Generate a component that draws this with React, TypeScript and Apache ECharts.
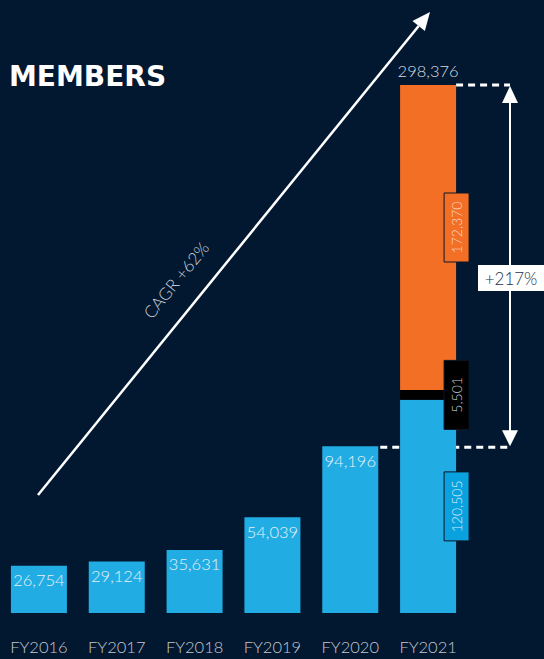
import React, { useEffect, useRef } from "react";
import * as echarts from "echarts";

const categories = ["FY2016", "FY2017", "FY2018", "FY2019", "FY2020", "FY2021"];
const members = [26754, 29124, 35631, 54039, 94196, 120505];
const blackPart = [null, null, null, null, null, 5501];
const orangePart = [null, null, null, null, null, 172370];
const total2021 = 298376;
const cagrText = "CAGR +62%";
const growthText = "+217%";
const titleText = "MEMBERS";

const BG = "#021830";
const BLUE = "#21ADE3";
const ORANGE = "#F36F26";
const FONT = "Lato";

const fmt = (v: number) => v.toLocaleString("en-US");

export default function App() {
  const ref = useRef<HTMLDivElement>(null);
  useEffect(() => {
    document.body.style.margin = "0";
    const chart = echarts.init(ref.current!, null, { renderer: "svg" });
    const option: any = {
      animation: false,
      backgroundColor: BG,
      grid: { left: -1, right: 77, top: 85, bottom: 46 },
      xAxis: {
        type: "category",
        data: categories,
        axisLine: { show: false },
        axisTick: { show: false },
        axisLabel: { color: "#c3c9d1", fontSize: 16.5, margin: 25, fontFamily: FONT, fontWeight: 300 },
      },
      yAxis: { type: "value", min: 0, max: total2021, show: false },
      series: [
        {
          type: "bar",
          stack: "s",
          barWidth: 56,
          itemStyle: { color: BLUE },
          label: {
            show: true,
            position: "insideTop",
            distance: 6,
            color: "#e6f0f7",
            fontSize: 16.5,
            fontFamily: FONT,
            fontWeight: 300,
            formatter: (p: any) => (p.dataIndex === 5 ? "" : fmt(p.value)),
          },
          data: members,
        },
        {
          type: "bar",
          stack: "s",
          barWidth: 56,
          itemStyle: { color: "#000000" },
          data: blackPart,
        },
        {
          type: "bar",
          stack: "s",
          barWidth: 56,
          itemStyle: { color: ORANGE },
          data: orangePart,
        },
      ],
    };
    chart.setOption(option);

    const px = (cat: string, v: number) =>
      chart.convertToPixel({ gridIndex: 0 }, [cat, v]) as number[];
    const last = categories[5];
    const base = px(last, 0);
    const pBlue = px(last, members[5]);
    const pBlack = px(last, members[5] + (blackPart[5] as number));
    const pTop = px(last, total2021);
    const p2020 = px(categories[4], members[4]);
    const half = 28;
    const ax = 510;
    const white = "#ffffff";
    const dash = { stroke: white, lineWidth: 3, lineDash: [7, 5] };

    const box = (cx: number, cy: number, fill: string, color: string, v: number) => [
      {
        type: "rect",
        shape: { x: cx - 12.5, y: cy - 34.5, width: 25, height: 69 },
        style: { fill, stroke: "#0a1626", lineWidth: 1 },
        z: 10,
      },
      {
        type: "text",
        x: cx,
        y: cy,
        rotation: Math.PI / 2,
        z: 11,
        style: {
          text: fmt(v),
          fill: color,
          font: `300 14px ${FONT}`,
          align: "center",
          verticalAlign: "middle",
        },
      },
    ];
    const bxc = base[0] + half + 0.5;

    // CAGR arrow
    const sx = 38, sy = 495, tx = 430, ty = 12;
    const L = Math.hypot(tx - sx, ty - sy);
    const ux = (tx - sx) / L, uy = (ty - sy) / L;
    const hl = 18, hw = 8;
    const bx = tx - ux * hl, by = ty - uy * hl;
    const ang = Math.atan2(sy - ty, tx - sx);

    const graphic: any[] = [
      {
        type: "text",
        left: 9,
        top: 62,
        style: { text: titleText, fill: white, font: `bold 28px 'DejaVu Sans'` },
      },
      {
        type: "line",
        shape: { x1: sx, y1: sy, x2: bx, y2: by },
        style: { stroke: white, lineWidth: 2.5 },
      },
      {
        type: "polygon",
        shape: {
          points: [
            [tx, ty],
            [bx - uy * hw, by + ux * hw],
            [bx + uy * hw, by - ux * hw],
          ],
        },
        style: { fill: white },
      },
      {
        type: "text",
        x: 176,
        y: 280,
        rotation: ang,
        style: {
          text: cagrText,
          fill: "#c9ced6",
          font: `300 17px ${FONT}`,
          align: "center",
          verticalAlign: "middle",
        },
      },
      {
        type: "text",
        x: pTop[0],
        y: pTop[1] - 14,
        style: {
          text: fmt(total2021),
          fill: "#d5dbe2",
          font: `300 16.5px ${FONT}`,
          align: "center",
          verticalAlign: "middle",
        },
      },
      ...box(bxc, (pBlack[1] + pTop[1]) / 2 - 10, ORANGE, "#f8d8c6", orangePart[5] as number),
      ...box(bxc, (pBlue[1] + pBlack[1]) / 2, "#000000", "#c9cdd2", blackPart[5] as number),
      ...box(bxc, (base[1] + pBlue[1]) / 2, "#0AA1DF", "#d6eef9", members[5]),
      {
        type: "line",
        shape: { x1: pTop[0] + half, y1: pTop[1], x2: ax, y2: pTop[1] },
        style: dash,
      },
      {
        type: "line",
        shape: { x1: p2020[0] + half + 2, y1: p2020[1] + 1, x2: ax, y2: p2020[1] + 1 },
        style: dash,
      },
      {
        type: "line",
        shape: { x1: ax, y1: pTop[1] + 15, x2: ax, y2: p2020[1] - 14 },
        style: { stroke: white, lineWidth: 2 },
      },
      {
        type: "polygon",
        shape: { points: [[ax, pTop[1] + 1], [ax - 8, pTop[1] + 18], [ax + 8, pTop[1] + 18]] },
        style: { fill: white },
      },
      {
        type: "polygon",
        shape: { points: [[ax, p2020[1]], [ax - 8, p2020[1] - 16], [ax + 8, p2020[1] - 16]] },
        style: { fill: white },
      },
      {
        type: "rect",
        shape: { x: 478, y: 265, width: 66, height: 26 },
        style: { fill: white },
      },
      {
        type: "text",
        x: 511,
        y: 278,
        style: {
          text: growthText,
          fill: "#1d3047",
          font: `300 17px ${FONT}`,
          align: "center",
          verticalAlign: "middle",
        },
      },
    ];
    chart.setOption({ graphic });
    return () => chart.dispose();
  }, []);
  return <div ref={ref} style={{ width: 544, height: 659 }} />;
}
